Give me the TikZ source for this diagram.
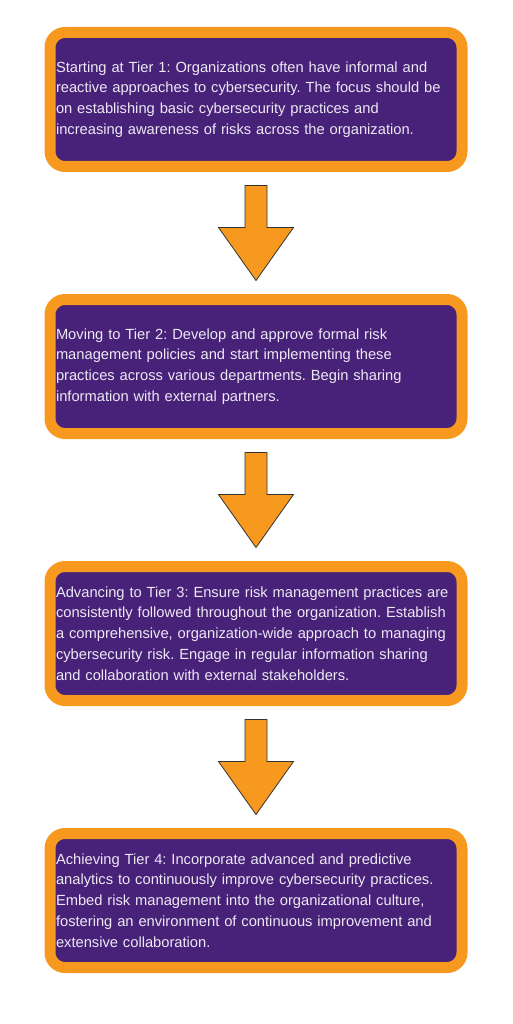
\documentclass[tikz,border=0pt]{standalone}
\usepackage{fontspec}
\setmainfont{Liberation Sans}
\usetikzlibrary{calc}
\frenchspacing

\definecolor{tierorange}{HTML}{F7991F}
\definecolor{tierpurple}{HTML}{482278}
\definecolor{tiertext}{HTML}{ECE8F4}

\tikzset{
    tier/.style={draw=tierorange, line width=11pt, fill=tierpurple,
        rounded corners=15pt, minimum width=412pt, minimum height=134pt,
        text width=400pt, inner xsep=6pt, align=left, text=tiertext,
        font=\fontsize{14.7pt}{20.8pt}\selectfont},
    downarrow/.style={fill=tierorange, draw=black!80, line width=0.8pt, line join=miter}
}

\begin{document}
\begin{tikzpicture}[x=1pt, y=-1pt]

    \useasboundingbox (0, 0) rectangle (512, 1024);

    % Tier boxes

    \node[tier] (t1) at (256, 99.5) {Starting at Tier 1: Organizations often have informal and\\
        reactive approaches to cybersecurity. The focus should be\\
        on establishing basic cybersecurity practices and\\
        increasing awareness of risks across the organization.};

    \node[tier] (t2) at (256, 366.5) {Moving to Tier 2: Develop and approve formal risk\\
        management policies and start implementing these\\
        practices across various departments. Begin sharing\\
        information with external partners.};

    \node[tier] (t3) at (256, 633.5) {Advancing to Tier 3: Ensure risk management practices are\\
        consistently followed throughout the organization. Establish\\
        a comprehensive, organization-wide approach to managing\\
        cybersecurity risk. Engage in regular information sharing\\
        and collaboration with external stakeholders.};

    \node[tier] (t4) at (256, 900.5) {Achieving Tier 4: Incorporate advanced and predictive\\
        analytics to continuously improve cybersecurity practices.\\
        Embed risk management into the organizational culture,\\
        fostering an environment of continuous improvement and\\
        extensive collaboration.};

    % Arrows between the tiers

    \coordinate (a1) at ([yshift=-13.5pt]t1.south);
    \coordinate (b1) at ([yshift=13.5pt]t2.north);
    \coordinate (a2) at ([yshift=-13.5pt]t2.south);
    \coordinate (b2) at ([yshift=13.5pt]t3.north);
    \coordinate (a3) at ([yshift=-13.5pt]t3.south);
    \coordinate (b3) at ([yshift=13.5pt]t4.north);

    \draw[downarrow] ($(a1)+(-11,0)$) -- ($(a1)+(11,0)$) -- ($(b1)+(11,-53)$) -- ($(b1)+(37.5,-53)$)
        -- (b1) -- ($(b1)+(-37.5,-53)$) -- ($(b1)+(-11,-53)$) -- cycle;
    \draw[downarrow] ($(a2)+(-11,0)$) -- ($(a2)+(11,0)$) -- ($(b2)+(11,-53)$) -- ($(b2)+(37.5,-53)$)
        -- (b2) -- ($(b2)+(-37.5,-53)$) -- ($(b2)+(-11,-53)$) -- cycle;
    \draw[downarrow] ($(a3)+(-11,0)$) -- ($(a3)+(11,0)$) -- ($(b3)+(11,-53)$) -- ($(b3)+(37.5,-53)$)
        -- (b3) -- ($(b3)+(-37.5,-53)$) -- ($(b3)+(-11,-53)$) -- cycle;

\end{tikzpicture}
\end{document}
